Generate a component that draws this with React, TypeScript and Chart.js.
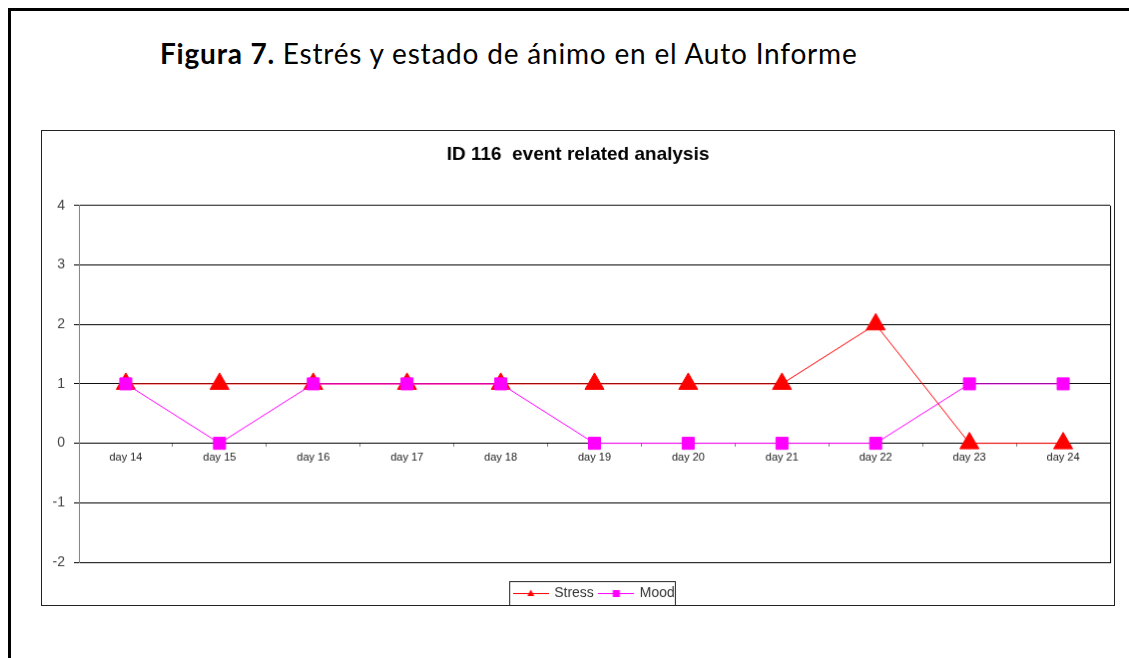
import React, { useEffect, useRef } from "react";
import { Chart, registerables } from "chart.js";

Chart.register(...registerables);

const categories = ["day 14", "day 15", "day 16", "day 17", "day 18", "day 19", "day 20", "day 21", "day 22", "day 23", "day 24"];
const stressValues = [1, 1, 1, 1, 1, 1, 1, 1, 2, 0, 0];
const moodValues = [1, 0, 1, 1, 1, 0, 0, 0, 0, 1, 1];
const yTicks = [-2, -1, 0, 1, 2, 3, 4];

const chartTitle = "ID 116  event related analysis";
const figureBold = "Figura 7.";
const figureRest = " Estrés y estado de ánimo en el Auto Informe";

const STRESS_COLOR = "#ff0000";
const MOOD_COLOR = "#ff00ff";

function legendImage(kind: "triangle" | "square", color: string) {
  const c = document.createElement("canvas");
  c.width = 36;
  c.height = 12;
  const ctx = c.getContext("2d")!;
  ctx.strokeStyle = color;
  ctx.lineWidth = 1;
  ctx.beginPath();
  ctx.moveTo(0, 6.5);
  ctx.lineTo(36, 6.5);
  ctx.stroke();
  ctx.fillStyle = color;
  ctx.beginPath();
  if (kind === "triangle") {
    ctx.moveTo(18, 2.5);
    ctx.lineTo(21.5, 9);
    ctx.lineTo(14.5, 9);
    ctx.closePath();
  } else {
    ctx.rect(14.5, 3, 7, 7);
  }
  ctx.fill();
  return c;
}

const framePlugin = {
  id: "frames",
  afterDraw(chart: any) {
    const ctx = chart.ctx;
    const ca = chart.chartArea;
    ctx.save();
    ctx.strokeStyle = "#000";
    ctx.lineWidth = 1;
    const rx = Math.round(ca.right) + 0.5;
    ctx.beginPath();
    ctx.moveTo(rx, Math.round(ca.top));
    ctx.lineTo(rx, Math.round(ca.bottom) + 1);
    ctx.stroke();
    const boxes = chart.legend && chart.legend.legendHitBoxes;
    if (boxes && boxes.length) {
      let l = Infinity, r = -Infinity, t = Infinity, b = -Infinity;
      for (const hb of boxes) {
        l = Math.min(l, hb.left);
        r = Math.max(r, hb.left + hb.width);
        t = Math.min(t, hb.top);
        b = Math.max(b, hb.top + hb.height);
      }
      ctx.strokeStyle = "#222";
      ctx.strokeRect(Math.round(l - 5) + 0.5, Math.round(t - 5) + 0.5, Math.round(r - l + 5), Math.round(b - t + 11));
    }
    ctx.restore();
  },
};

export default function App() {
  const ref = useRef<HTMLCanvasElement | null>(null);

  useEffect(() => {
    if (!ref.current) return;
    const stressImg = legendImage("triangle", STRESS_COLOR);
    const moodImg = legendImage("square", MOOD_COLOR);
    const chart = new Chart(ref.current, {
      type: "line",
      data: {
        labels: categories,
        datasets: [
          {
            label: "Stress",
            data: stressValues,
            borderColor: STRESS_COLOR,
            backgroundColor: STRESS_COLOR,
            borderWidth: 1,
            pointStyle: "triangle",
            pointRadius: 11,
            pointBorderWidth: 1,
            pointBorderColor: STRESS_COLOR,
            pointBackgroundColor: STRESS_COLOR,
            tension: 0,
            order: 1,
            clip: false,
          },
          {
            label: "Mood",
            data: moodValues,
            borderColor: MOOD_COLOR,
            backgroundColor: MOOD_COLOR,
            borderWidth: 1,
            pointStyle: "rect",
            pointRadius: 8.5,
            pointBorderWidth: 1,
            pointBorderColor: MOOD_COLOR,
            pointBackgroundColor: MOOD_COLOR,
            tension: 0,
            order: 0,
            clip: false,
          },
        ],
      },
      options: {
        responsive: false,
        animation: false,
        events: [],
        layout: { autoPadding: false, padding: { left: 0, right: 0, top: 0, bottom: -5 } },
        scales: {
          x: {
            type: "category",
            offset: true,
            position: { y: 0 } as any,
            afterFit: (s: any) => {
              s.paddingLeft = 0;
              s.paddingRight = 0;
            },
            grid: {
              offset: true,
              drawOnChartArea: false,
              drawTicks: true,
              tickLength: 3,
              color: "#808080",
            },
            border: { display: true, color: "#000", width: 1 },
            ticks: {
              padding: 5,
              color: "#222",
              font: { family: "'Liberation Sans', Arial, sans-serif", size: 11 },
              maxRotation: 0,
              autoSkip: false,
            },
          },
          y: {
            min: -2,
            max: 4,
            afterFit: (s: any) => {
              s.width = 37;
            },
            afterBuildTicks: (s: any) => {
              s.ticks = yTicks.map((v) => ({ value: v }));
            },
            grid: { color: "#000", lineWidth: 1, tickLength: 5, drawTicks: true },
            border: { display: true, color: "#808080", width: 1 },
            ticks: {
              stepSize: 1,
              padding: 9,
              color: "#444",
              font: { family: "'Liberation Sans', Arial, sans-serif", size: 14 },
            },
          },
          yRightGap: {
            type: "linear",
            position: "right",
            display: true,
            min: -2,
            max: 4,
            afterFit: (s: any) => {
              s.width = 4;
            },
            grid: { display: false, drawTicks: false },
            border: { display: false },
            ticks: { display: false },
          },
        },
        plugins: {
          tooltip: { enabled: false },
          title: {
            display: true,
            text: chartTitle,
            color: "#000",
            font: { family: "'Liberation Sans', Arial, sans-serif", size: 19, weight: "bold" },
            padding: { top: 12, bottom: 40 },
          },
          legend: {
            display: true,
            position: "bottom",
            fullSize: false,
            title: { display: true, text: " ", padding: { top: 8, bottom: 0 }, font: { size: 10, lineHeight: 1 } },
            labels: {
              usePointStyle: true,
              pointStyleWidth: 33,
              padding: 6,
              color: "#333",
              font: { family: "'Liberation Sans', Arial, sans-serif", size: 14 },
              generateLabels: (ch: any) => {
                const imgs = [stressImg, moodImg];
                return ch.data.datasets.map((ds: any, i: number) => ({
                  text: ds.label,
                  datasetIndex: i,
                  fillStyle: ds.borderColor,
                  strokeStyle: ds.borderColor,
                  lineWidth: 0,
                  pointStyle: imgs[i],
                  fontColor: "#333",
                  hidden: false,
                }));
              },
            },
          },
        },
      },
      plugins: [framePlugin],
    } as any);
    return () => chart.destroy();
  }, []);

  return (
    <div>
      <div
        style={{
          position: "fixed",
          left: 8,
          top: 8,
          right: -20,
          bottom: -20,
          border: "3px solid #000",
          background: "#fff",
        }}
      />
      <div
        style={{
          position: "fixed",
          left: 160,
          top: 35,
          fontFamily: "Lato, 'Open Sans', sans-serif",
          fontSize: 28,
          letterSpacing: "0.8px",
          lineHeight: "36px",
          color: "#000",
          whiteSpace: "nowrap",
        }}
      >
        <b>{figureBold}</b>
        {figureRest}
      </div>
      <canvas
        ref={ref}
        width={1074}
        height={476}
        style={{
          position: "fixed",
          left: 41,
          top: 130,
          width: 1074,
          height: 476,
          border: "1px solid #222",
          background: "#fff",
        }}
      />
    </div>
  );
}
